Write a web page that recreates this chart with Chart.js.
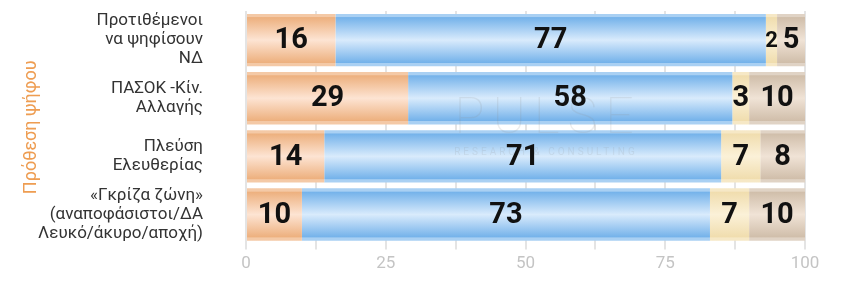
<!DOCTYPE html>
<html>
<head>
<meta charset="utf-8">
<script src="https://cdn.jsdelivr.net/npm/chart.js@4.4.1/dist/chart.umd.min.js"></script>
<style>
  html, body { margin: 0; padding: 0; background: #fff; }
  #wrap { width: 866px; height: 288px; }
</style>
</head>
<body>
<div id="wrap"><canvas id="chart"></canvas></div>
<script>
const categories = [
  ["Προτιθέμενοι", "να ψηφίσουν", "ΝΔ"],
  ["ΠΑΣΟΚ -Κίν.", "Αλλαγής"],
  ["Πλεύση", "Ελευθερίας"],
  ["«Γκρίζα ζώνη»", "(αναποφάσιστοι/ΔΑ", "Λευκό/άκυρο/αποχή)"]
];
const seriesNames = ["Α", "Β", "Γ", "Δ"];
const series1 = [16, 29, 14, 10];
const series2 = [77, 58, 71, 73];
const series3 = [2, 3, 7, 7];
const series4 = [5, 10, 8, 10];
const axisTitle = "Πρόθεση ψήφου";

// edge / middle / rim colours for the tube look
const palette = [
  ["#EDB07E", "#FDE4D3", "#F4C9A6"],
  ["#74B2EA", "#D9EBFC", "#A9D0F3"],
  ["#F0DDAE", "#FBF1D8", "#F6E8C6"],
  ["#D0BEAA", "#F0E3D6", "#E0D3C5"]
];

const BAR_FRAC = 0.9;

function tube(i) {
  const [edge, mid, rim] = palette[i];
  return (ctx) => {
    const chart = ctx.chart;
    const y = chart.scales && chart.scales.y;
    if (!y || ctx.type !== "data") return edge;
    const c = y.getPixelForValue(ctx.dataIndex);
    const half = (y.height / categories.length) * BAR_FRAC / 2;
    if (!isFinite(c) || !isFinite(half) || half <= 0) return edge;
    const g = chart.ctx.createLinearGradient(0, c - half, 0, c + half);
    g.addColorStop(0, rim);
    g.addColorStop(0.055, rim);
    g.addColorStop(0.07, edge);
    g.addColorStop(0.5, mid);
    g.addColorStop(0.93, edge);
    g.addColorStop(0.945, rim);
    g.addColorStop(1, rim);
    return g;
  };
}

const values = [series1, series2, series3, series4];

const valueLabels = {
  id: "valueLabels",
  afterDatasetsDraw(chart) {
    const ctx = chart.ctx;
    ctx.save();
    ctx.fillStyle = "#111";
    ctx.textAlign = "center";
    ctx.textBaseline = "middle";
    chart.data.datasets.forEach((ds, di) => {
      const meta = chart.getDatasetMeta(di);
      meta.data.forEach((bar, i) => {
        const v = ds.data[i];
        const size = v <= 2 ? 22 : 29;
        ctx.font = "bold " + size + "px Roboto";
        ctx.fillText(String(v), (bar.x + bar.base) / 2, bar.y + 1);
      });
    });
    ctx.restore();
  }
};

const watermark = {
  id: "watermark",
  afterDatasetsDraw(chart) {
    const ctx = chart.ctx;
    ctx.save();
    ctx.fillStyle = "rgba(140,140,140,0.16)";
    ctx.textAlign = "center";
    ctx.textBaseline = "alphabetic";
    ctx.font = "100 50px Roboto";
    ctx.letterSpacing = "8px";
    ctx.fillText("PULSE", 548, 133);
    ctx.font = "10px Roboto";
    ctx.letterSpacing = "3px";
    ctx.fillText("RESEARCH & CONSULTING", 546, 155);
    ctx.restore();
  }
};

new Chart(document.getElementById("chart"), {
  type: "bar",
  data: {
    labels: categories,
    datasets: values.map((d, i) => ({
      label: seriesNames[i],
      data: d,
      backgroundColor: tube(i),
      borderWidth: 0,
      barPercentage: 1,
      categoryPercentage: BAR_FRAC
    }))
  },
  options: {
    indexAxis: "y",
    responsive: true,
    maintainAspectRatio: false,
    animation: false,
    layout: { padding: { top: 11, bottom: 10, right: 61, left: 0 } },
    plugins: {
      legend: { display: false },
      tooltip: { enabled: false }
    },
    scales: {
      x: {
        stacked: true,
        min: 0,
        max: 100,
        border: { display: false },
        grid: { color: "#E4E4E4", lineWidth: 2, tickLength: 6 },
        ticks: {
          stepSize: 12.5,
          autoSkip: false,
          maxRotation: 0,
          padding: 4,
          color: "#C4C4C4",
          font: { family: "Roboto", size: 17 },
          callback: (v) => (v % 25 === 0 ? String(v) : "")
        }
      },
      y: {
        stacked: true,
        border: { display: false },
        grid: { display: false },
        afterFit: (scale) => {
          scale.width = 246;
          scale.paddingTop = 0;
          scale.paddingBottom = 0;
        },
        ticks: {
          autoSkip: false,
          padding: 35,
          color: "#333",
          font: { family: "Roboto", size: 17, lineHeight: 1.12 }
        },
        title: {
          display: true,
          text: axisTitle,
          color: "#EE9D52",
          padding: { top: 21, bottom: 0 },
          font: { family: "Roboto", size: 18 }
        }
      }
    }
  },
  plugins: [watermark, valueLabels]
});
</script>
</body>
</html>
